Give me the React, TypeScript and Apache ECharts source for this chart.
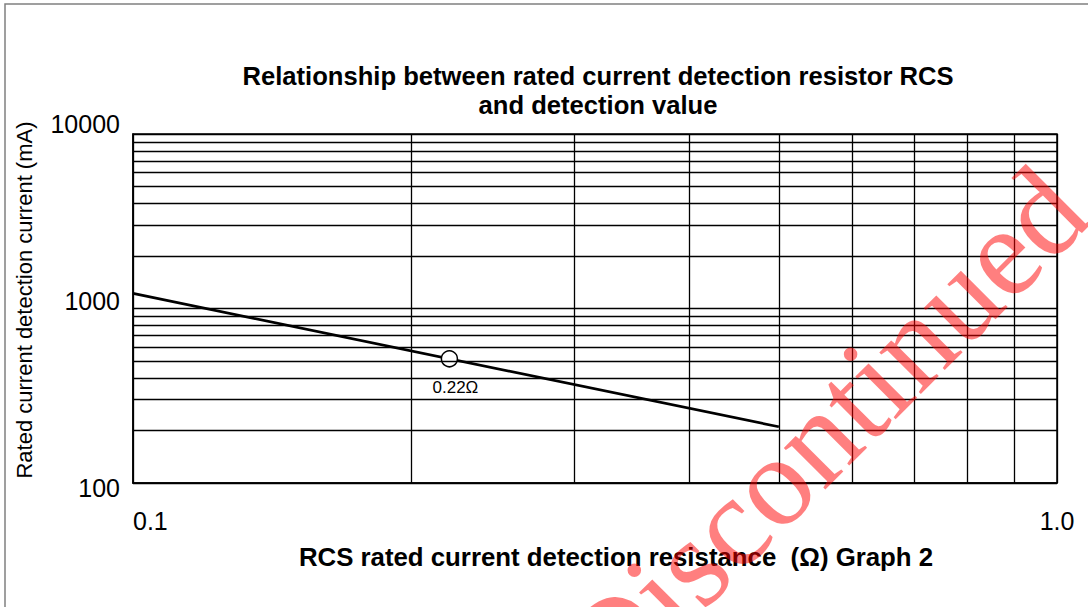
import React, { useEffect, useRef } from "react";
import * as echarts from "echarts";

// ---- data ----
const titleLines = ["Relationship between rated current detection resistor RCS", "and detection value"];
const xAxisName = "RCS rated current detection resistance  (Ω) Graph 2";
const yAxisName = "Rated current detection current (mA)";
const watermark = "Discontinued";

// line: resistance (Ω) vs rated detection current (mA)
const lineX = [0.1, 0.5];
const lineY = [1220, 210];

// highlighted point
const pointX = [0.22];
const pointY = [515];
const pointLabel = ["0.22Ω"];

// tick labels and grid values
const xTickLabels: Record<string, string> = { "0.1": "0.1", "1": "1.0" };
const yTickLabels: Record<string, string> = { "100": "100", "1000": "1000", "10000": "10000" };
const xMinorGrid = [0.2, 0.3, 0.4, 0.5, 0.6, 0.7, 0.8, 0.9];
const yMinorGrid = [200, 300, 400, 500, 600, 700, 800, 900, 2000, 3000, 4000, 5000, 6000, 7000, 8000, 9000];

const FONT = "'Liberation Sans', Arial, Helvetica, sans-serif";

export default function App() {
  const ref = useRef<HTMLDivElement>(null);

  useEffect(() => {
    if (!ref.current) return;
    const chart = echarts.init(ref.current, null, { renderer: "svg" });

    const gridLineStyle = { color: "#000", width: 1.3, type: "solid" as const };

    const option: any = {
      animation: false,
      backgroundColor: "#fff",
      textStyle: { fontFamily: FONT },
      title: {
        text: titleLines.join("\n"),
        left: 593,
        top: 56,
        textAlign: "center",
        textStyle: {
          fontFamily: FONT,
          fontSize: 25.6,
          fontWeight: "bold",
          lineHeight: 29,
          color: "#000",
        },
      },
      grid: {
        left: 133,
        top: 134,
        width: 924,
        height: 349,
        show: true,
        borderColor: "#000",
        borderWidth: 1.5,
        backgroundColor: "transparent",
      },
      xAxis: {
        type: "log",
        logBase: 10,
        min: 0.1,
        max: 1,
        name: xAxisName,
        nameLocation: "middle",
        nameGap: 61,
        nameTextStyle: {
          fontFamily: FONT,
          fontSize: 25.8,
          fontWeight: "bold",
          color: "#000",
          padding: [0, 0, 0, 42],
        },
        axisLine: { show: true, lineStyle: { color: "#000", width: 1.5 } },
        axisTick: { show: false },
        splitLine: { show: true, lineStyle: gridLineStyle },
        axisLabel: {
          margin: 25,
          fontSize: 25,
          color: "#000",
          fontFamily: FONT,
          alignMinLabel: "left",
          formatter: (v: number) => {
            const k = String(Number(v.toPrecision(6)));
            return xTickLabels[k] ?? "";
          },
        },
      },
      yAxis: {
        type: "log",
        logBase: 10,
        min: 100,
        max: 10000,
        name: yAxisName,
        nameLocation: "middle",
        nameGap: 98,
        nameTextStyle: {
          fontFamily: FONT,
          fontSize: 22,
          color: "#000",
          padding: [0, 0, 0, 17],
        },
        axisLine: { show: true, lineStyle: { color: "#000", width: 1.5 } },
        axisTick: { show: false },
        splitLine: { show: true, lineStyle: gridLineStyle },
        axisLabel: {
          margin: 13,
          fontSize: 25,
          color: "#000",
          fontFamily: FONT,
          formatter: (v: number) => {
            const k = String(Math.round(v));
            const t = yTickLabels[k] ?? "";
            if (k === "10000") return "{up|" + t + "}";
            if (k === "1000") return "{mid|" + t + "}";
            return "{down|" + t + "}";
          },
          rich: {
            up: { fontSize: 25, fontFamily: FONT, color: "#000", padding: [0, 0, 20, 0] },
            mid: { fontSize: 25, fontFamily: FONT, color: "#000", padding: [0, 0, 16, 0] },
            down: { fontSize: 25, fontFamily: FONT, color: "#000", padding: [10, 0, 0, 0] },
          },
        },
      },
      series: [
        {
          name: "grid",
          type: "line",
          data: [],
          silent: true,
          z: 1,
          markLine: {
            silent: true,
            symbol: ["none", "none"],
            label: { show: false },
            lineStyle: gridLineStyle,
            emphasis: { disabled: true },
            data: [
              ...xMinorGrid.map((v) => ({ xAxis: v })),
              ...yMinorGrid.map((v) => ({ yAxis: v })),
            ],
          },
        },
        {
          name: "current",
          type: "line",
          data: lineX.map((x, i) => [x, lineY[i]]),
          showSymbol: false,
          symbol: "none",
          lineStyle: { color: "#000", width: 2.7 },
          z: 3,
        },
        {
          name: "point",
          type: "scatter",
          data: pointX.map((x, i) => [x, pointY[i]]),
          symbol: "circle",
          symbolSize: 16,
          itemStyle: { color: "#fff", borderColor: "#000", borderWidth: 1.5, opacity: 1 },
          z: 4,
          label: {
            show: true,
            position: "bottom",
            distance: 10,
            offset: [6, 1],
            formatter: (p: any) => pointLabel[p.dataIndex],
            fontFamily: FONT,
            fontSize: 17,
            color: "#000",
          },
        },
      ],
      graphic: [
        {
          type: "rect",
          shape: { x: 5, y: 4, width: 1300, height: 900 },
          style: { fill: "none", stroke: "#808080", lineWidth: 1.5 },
          silent: true,
          z: 50,
        },
        {
          type: "text",
          x: 823,
          y: 431,
          rotation: Math.PI / 4,
          silent: true,
          z: 100,
          style: {
            text: watermark,
            fontFamily: "'Liberation Serif', 'Times New Roman', Times, serif",
            fontSize: 128,
            fill: "rgba(255,0,0,0.5)",
            align: "center",
            verticalAlign: "middle",
          },
        },
      ],
    };

    chart.setOption(option);
    return () => chart.dispose();
  }, []);

  return (
    <div
      ref={ref}
      style={{ position: "fixed", left: 0, top: 0, width: 1088, height: 607, background: "#fff" }}
    />
  );
}
